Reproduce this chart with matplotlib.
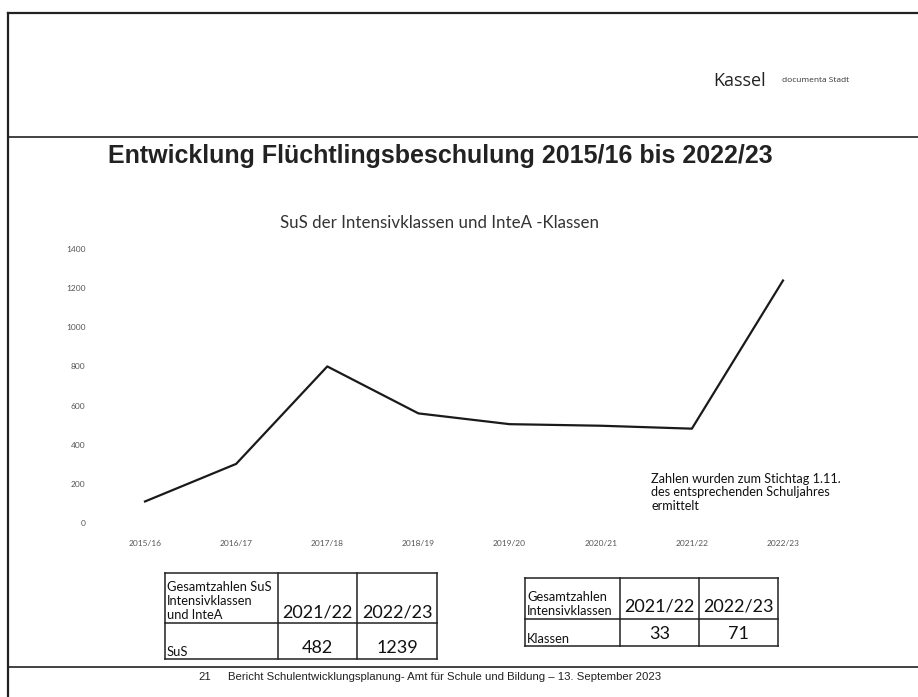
import matplotlib
matplotlib.use("Agg")
import matplotlib.pyplot as plt

# data
years = ["2015/16", "2016/17", "2017/18", "2018/19", "2019/20", "2020/21", "2021/22", "2022/23"]
sus = [110, 302, 800, 560, 505, 497, 482, 1239]
y_ticks = [0, 200, 400, 600, 800, 1000, 1200, 1400]

tab1_head = ["Gesamtzahlen SuS\nIntensivklassen\nund InteA", "2021/22", "2022/23"]
tab1_row = ["SuS", "482", "1239"]
tab2_head = ["Gesamtzahlen\nIntensivklassen", "2021/22", "2022/23"]
tab2_row = ["Klassen", "33", "71"]

W, H = 918, 697
fig = plt.figure(figsize=(W / 100, H / 100), dpi=100)
fig.patch.set_facecolor("white")

# page overlay in pixel coordinates
pg = fig.add_axes([0, 0, 1, 1])
pg.set_xlim(0, W)
pg.set_ylim(H, 0)
pg.axis("off")

# page frame lines
pg.plot([8, 8], [13, H], color="#222", lw=1.6)
pg.plot([8, W], [13, 13], color="#222", lw=1.6)
pg.plot([8, W], [137, 137], color="#222", lw=1.2)
pg.plot([8, W], [667, 667], color="#222", lw=1.2)

pg.text(713, 81, "Kassel", fontsize=13, family="Open Sans", color="#222", va="center", ha="left")
pg.text(782, 80, "documenta Stadt", fontsize=6, family="Open Sans", color="#333", va="center", ha="left")

pg.text(108, 156, "Entwicklung Flüchtlingsbeschulung 2015/16 bis 2022/23", fontsize=18,
        family="Liberation Sans", weight="bold", color="#222", va="center", ha="left")

pg.text(439, 223, "SuS der Intensivklassen und InteA -Klassen", fontsize=12.2, family="Lato",
        color="#333", va="center", ha="center")

pg.text(651, 473, "Zahlen wurden zum Stichtag 1.11.\ndes entsprechenden Schuljahres\nermittelt",
        fontsize=9.1, family="Lato", color="#111", va="top", ha="left", linespacing=1.15)

pg.text(198, 677, "21", fontsize=8.2, family="Liberation Sans", color="#222", va="center", ha="left")
pg.text(228, 677, "Bericht Schulentwicklungsplanung- Amt für Schule und Bildung – 13. September 2023",
        fontsize=8.2, family="Liberation Sans", color="#222", va="center", ha="left")


def draw_table(xs, ys, head, row, head_y, row_y):
    for x in xs:
        pg.plot([x, x], [ys[0], ys[-1]], color="#222", lw=1.1)
    for y in ys:
        pg.plot([xs[0], xs[-1]], [y, y], color="#222", lw=1.1)
    pg.text(xs[0] + 2, ys[1] - 2, head[0], fontsize=9.3, family="Lato", color="#111",
            va="bottom", ha="left", linespacing=1.2)
    pg.text(xs[0] + 2, ys[2] - 1, row[0], fontsize=9.3, family="Lato", color="#111",
            va="bottom", ha="left")
    for i in (1, 2):
        cx = (xs[i] + xs[i + 1]) / 2
        pg.text(cx, head_y, head[i], fontsize=13, family="Lato", color="#111", va="center", ha="center")
        pg.text(cx, row_y, row[i], fontsize=13, family="Lato", color="#111", va="center", ha="center")


draw_table([165, 278, 357, 437], [573, 623, 659], tab1_head, tab1_row, 612, 648)
draw_table([525, 620, 699, 778], [578, 619, 646], tab2_head, tab2_row, 607, 634)

# line chart
step = (783 - 145) / 7
left = 145 - 0.5 * step
right = 783 + 0.5 * step
bottom, top = 523, 249
ax = fig.add_axes([left / W, 1 - bottom / H, (right - left) / W, (bottom - top) / H])
ax.patch.set_alpha(0)
ax.plot(range(len(years)), sus, color="#1a1a1a", lw=1.6)
ax.set_xlim(-0.5, 7.5)
ax.set_ylim(0, 1400)
ax.set_xticks(range(len(years)))
ax.set_xticklabels(years)
ax.set_yticks(y_ticks)
for s in ax.spines.values():
    s.set_visible(False)
ax.tick_params(length=0, labelsize=6, labelcolor="#555", pad=12)
ax.tick_params(axis="y", pad=10)
for lab in ax.get_xticklabels() + ax.get_yticklabels():
    lab.set_family("Lato")

fig.savefig("out.png", dpi=100)
